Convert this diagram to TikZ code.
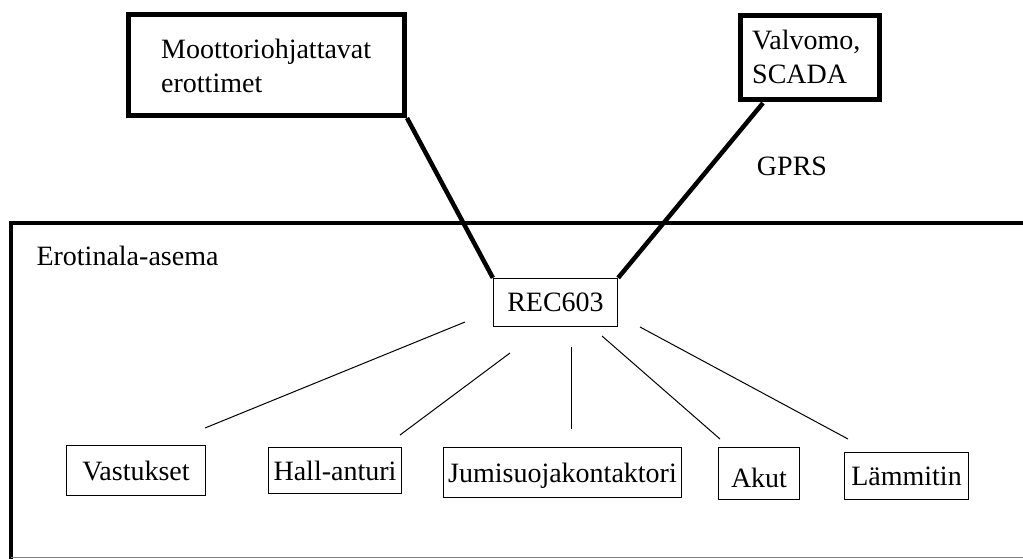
\documentclass[tikz,border=0pt]{standalone}
\usepackage{fontspec}
\setmainfont{Liberation Serif}
\usetikzlibrary{calc}
\begin{document}
\begin{tikzpicture}[x=1pt,y=-1pt,
  font=\fontsize{28}{34}\selectfont,
  bigbox/.style={draw, line width=5pt, rectangle, inner sep=0pt},
  smallbox/.style={draw, line width=1.3pt, rectangle, inner sep=0pt},
  thickconn/.style={line width=4.5pt},
  thinconn/.style={line width=1pt}]
\useasboundingbox (0,0) rectangle (1023,558);
% station frame
\draw[line width=4pt] (11,559) -- (11,223) -- (1030,223);
\draw[line width=1pt, gray] (11,557) -- (1030,557);
\node[anchor=base west] (erot) at (33,265) {Erotinala-asema};
% top boxes
\node[bigbox, minimum width=276pt, minimum height=101pt] (moot) at (266.5,65) {};
\node[anchor=base west, align=left, inner sep=0pt] (moottxt) at (161,92) {Moottoriohjattavat\\erottimet};
\node[bigbox, minimum width=139pt, minimum height=84pt] (valv) at (810,57.5) {};
\node[anchor=base west, align=left, inner sep=0pt] (valvtxt) at (752,83) {Valvomo,\\SCADA};
\node[anchor=base] (gprs) at (792,175) {GPRS};
% controller
\node[smallbox, minimum width=124pt, minimum height=48pt] (rec) at (555.5,302.5) {REC603};
% bottom boxes
\node[smallbox, minimum width=139pt, minimum height=50pt] (vast) at (136,470.5) {Vastukset};
\node[smallbox, minimum width=133pt, minimum height=46pt] (hall) at (335,470.5) {Hall-anturi};
\node[smallbox, minimum width=238pt, minimum height=50pt] (jumi) at (562.5,472.5) {};
\node (jumitxt) at (562.5,476) {Jumisuojakontaktori};
\node[smallbox, minimum width=81pt, minimum height=52pt] (akut) at (759,473.5) {};
\node (akuttxt) at (759,478) {Akut};
\node[smallbox, minimum width=124pt, minimum height=47pt] (lamm) at (906.5,476) {Lämmitin};
% thick connectors
\coordinate (valvend) at (763,103);
\draw[thickconn] (moot.south east) -- (rec.north west);
\draw[thickconn] (valvend) -- (rec.north east);
% thin connectors (free floating)
\coordinate (a1) at (465,322); \coordinate (b1) at (205,428);
\coordinate (a2) at (510,353); \coordinate (b2) at (400,435);
\coordinate (a3) at (571,347); \coordinate (b3) at (571,429);
\coordinate (a4) at (602,336); \coordinate (b4) at (720,439);
\coordinate (a5) at (640,327); \coordinate (b5) at (848,439);
\draw[thinconn] (a1) -- (b1);
\draw[thinconn] (a2) -- (b2);
\draw[thinconn] (a3) -- (b3);
\draw[thinconn] (a4) -- (b4);
\draw[thinconn] (a5) -- (b5);
\end{tikzpicture}
\end{document}
